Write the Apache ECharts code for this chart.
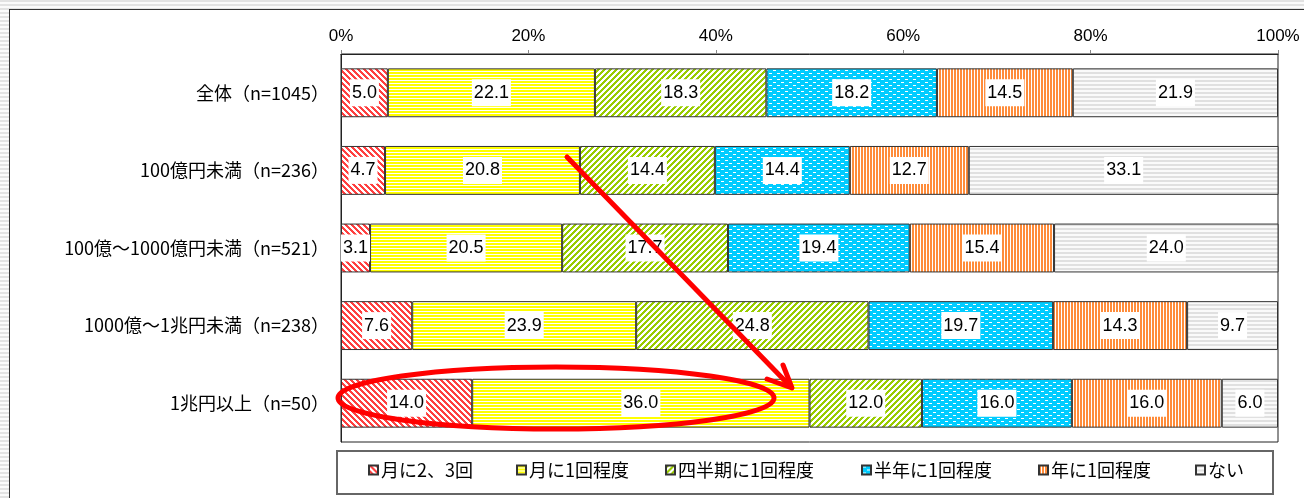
<!DOCTYPE html>
<html>
<head>
<meta charset="utf-8">
<script src="https://cdn.jsdelivr.net/npm/echarts@6.0.0/dist/echarts.min.js"></script>
<style>
  html, body { margin: 0; padding: 0; }
  #frame {
    position: relative; width: 1304px; height: 498px; overflow: hidden;
    background: repeating-linear-gradient(to bottom, #e2e2e2 0px, #e2e2e2 2px, #fafafa 2px, #fafafa 4px);
  }
  #panel {
    position: absolute; left: 9px; top: 9px; width: 1310px; height: 510px;
    background: #fff; border: 1px solid #333;
  }
  #chart { position: absolute; left: 0; top: 0; width: 1304px; height: 498px; }
</style>
</head>
<body>
<div id="frame">
  <div id="panel"></div>
  <div id="chart"></div>
</div>
<script>
  // 企業規模別の頻度（%）
  const categories = ['全体（n=1045）', '100億円未満（n=236）', '100億～1000億円未満（n=521）', '1000億～1兆円未満（n=238）', '1兆円以上（n=50）'];
  const seriesNames = ['月に2、3回', '月に1回程度', '四半期に1回程度', '半年に1回程度', '年に1回程度', 'ない'];
  const month23 = [5.0, 4.7, 3.1, 7.6, 14.0];
  const month1 = [22.1, 20.8, 20.5, 23.9, 36.0];
  const quarter1 = [18.3, 14.4, 17.7, 24.8, 12.0];
  const halfYear1 = [18.2, 14.4, 19.4, 19.7, 16.0];
  const year1 = [14.5, 12.7, 15.4, 14.3, 16.0];
  const never = [21.9, 33.1, 24.0, 9.7, 6.0];
  const xTicks = [0, 20, 40, 60, 80, 100];

  const jpFont = "'Noto Sans CJK JP', sans-serif";
  const numFont = "'Liberation Sans Narrow', 'Liberation Sans', sans-serif";

  // 塗りつぶしパターン
  function makePattern(w, h, bg, fg, test) {
    const c = document.createElement('canvas');
    c.width = w; c.height = h;
    const ctx = c.getContext('2d');
    ctx.fillStyle = bg;
    ctx.fillRect(0, 0, w, h);
    ctx.fillStyle = fg;
    for (let y = 0; y < h; y++) {
      for (let x = 0; x < w; x++) {
        if (test(x, y)) ctx.fillRect(x, y, 1, 1);
      }
    }
    return {image: c, repeat: 'repeat'};
  }

  const patterns = [
    makePattern(6, 6, '#ffffff', '#ff4040', (x, y) => ((x - y + 12) % 6) < 3),
    makePattern(1, 3, '#ffffff', '#ffff00', (x, y) => y < 2),
    makePattern(6, 6, '#ffffff', '#99cc00', (x, y) => ((x + y) % 6) < 3),
    makePattern(8, 6, '#00ccff', '#ffffff', (x, y) => (y === 1 && x >= 1 && x <= 3) || (y === 4 && x >= 5 && x <= 7)),
    makePattern(3, 1, '#ffffff', '#ff8c3a', (x) => x < 2),
    makePattern(1, 4, '#fafafa', '#e0e0e0', (x, y) => y < 2),
  ];
  const values = [month23, month1, quarter1, halfYear1, year1, never];
  const legendLeft = [368, 516, 665, 861, 1038, 1195];

  const series = seriesNames.map((name, i) => ({
    name: name,
    type: 'bar',
    stack: 'total',
    barCategoryGap: '37%',
    data: values[i],
    itemStyle: {color: patterns[i], borderColor: '#333', borderWidth: 1},
    label: {
      show: true,
      position: 'inside',
      formatter: p => p.value.toFixed(1),
      color: '#000',
      fontFamily: numFont,
      fontSize: 18,
      backgroundColor: '#fff',
      padding: [5, 2, 4, 2],
    },
    emphasis: {disabled: true},
  }));

  const chart = echarts.init(document.getElementById('chart'));
  const option = {
    animation: false,
    backgroundColor: 'transparent',
    grid: {left: 341, right: 26, top: 54, bottom: 56, show: true, borderColor: '#222', borderWidth: 1, backgroundColor: '#fff'},
    xAxis: {
      type: 'value',
      position: 'top',
      min: xTicks[0],
      max: xTicks[xTicks.length - 1],
      interval: 20,
      axisLine: {show: true, lineStyle: {color: '#222'}},
      axisTick: {show: true, inside: false, length: 4, lineStyle: {color: '#888'}},
      axisLabel: {formatter: '{value}%', color: '#000', fontFamily: numFont, fontSize: 17, margin: 9},
      splitLine: {show: false},
    },
    yAxis: {
      type: 'category',
      inverse: true,
      data: categories,
      axisLine: {show: true, lineStyle: {color: '#222'}},
      axisTick: {show: false},
      axisLabel: {color: '#000', fontFamily: jpFont, fontSize: 18, margin: 12},
    },
    legend: seriesNames.map((name, i) => ({
      data: [name],
      left: legendLeft[i],
      top: 461,
      padding: 0,
      itemWidth: 9,
      itemHeight: 9,
      icon: 'rect',
      selectedMode: false,
      textStyle: {color: '#000', fontFamily: jpFont, fontSize: 18, padding: [0, 0, 0, -2]},
    })),
    graphic: [
      {type: 'rect', z: 1, silent: true, shape: {x: 337, y: 451, width: 936, height: 43},
        style: {fill: '#fff', stroke: '#666', lineWidth: 2}},
      {type: 'ellipse', z: 100, silent: true, shape: {cx: 556, cy: 398, rx: 218, ry: 31},
        style: {fill: 'none', stroke: '#ff0000', lineWidth: 5}},
      {type: 'line', z: 100, silent: true, shape: {x1: 567, y1: 157, x2: 790, y2: 386},
        style: {stroke: '#ff0000', lineWidth: 5, lineCap: 'round'}},
      {type: 'polyline', z: 100, silent: true, shape: {points: [[767, 379], [792, 388], [783, 365]]},
        style: {fill: 'none', stroke: '#ff0000', lineWidth: 5, lineJoin: 'round', lineCap: 'round'}},
    ],
    series: series,
  };
  chart.setOption(option);
</script>
</body>
</html>
